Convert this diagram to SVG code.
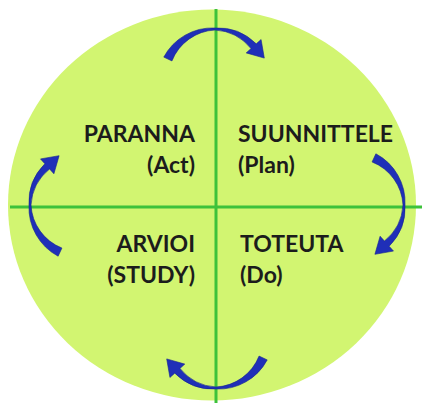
<svg xmlns="http://www.w3.org/2000/svg" width="422" height="403" viewBox="0 0 422 403">
  <defs>
    <style>
      .lbl { font-family: Lato, "Liberation Sans", sans-serif; font-weight: bold; font-size: 23px; fill: #1c1c1c; }
      .axis { stroke: #3dc23a; stroke-width: 3; }
      .arrow { fill: #1f2fb8; stroke: #16238f; stroke-width: 0.6; }
    </style>
    <path id="curved-arrow" d="M -51.21 -23.88 A 55 55 0 0 1 0 -53 A 54 54 0 0 1 41.24 -37.14 L 46.07 -41.48 L 49.3 -22.9 L 31.21 -28.10 L 36.04 -32.45 A 50 50 0 0 0 0 -51 A 49 49 0 0 0 -43.05 -20.07 Z"/>
  </defs>
  <rect width="422" height="403" fill="#ffffff"/>
  <g id="circle">
    <ellipse cx="212" cy="205" rx="204" ry="195.5" fill="#d2f571"/>
  </g>
  <g id="connectors">
    <line class="axis" x1="216" y1="9" x2="216" y2="403"/>
    <line class="axis" x1="10" y1="207" x2="422" y2="207"/>
    <use href="#curved-arrow" class="arrow" transform="translate(215,81)"/>
    <use href="#curved-arrow" class="arrow" transform="translate(352,205) rotate(90)"/>
    <use href="#curved-arrow" class="arrow" transform="translate(216,336) rotate(180)"/>
    <use href="#curved-arrow" class="arrow" transform="translate(82,205) rotate(270)"/>
  </g>
  <g id="act">
    <text class="lbl" x="195" y="142" text-anchor="end">PARANNA</text>
    <text class="lbl" x="195" y="173" text-anchor="end">(Act)</text>
  </g>
  <g id="plan">
    <text class="lbl" x="238" y="142">SUUNNITTELE</text>
    <text class="lbl" x="238" y="173">(Plan)</text>
  </g>
  <g id="study">
    <text class="lbl" x="195" y="252" text-anchor="end">ARVIOI</text>
    <text class="lbl" x="195" y="283" text-anchor="end">(STUDY)</text>
  </g>
  <g id="do">
    <text class="lbl" x="240" y="252">TOTEUTA</text>
    <text class="lbl" x="240" y="283">(Do)</text>
  </g>
</svg>
